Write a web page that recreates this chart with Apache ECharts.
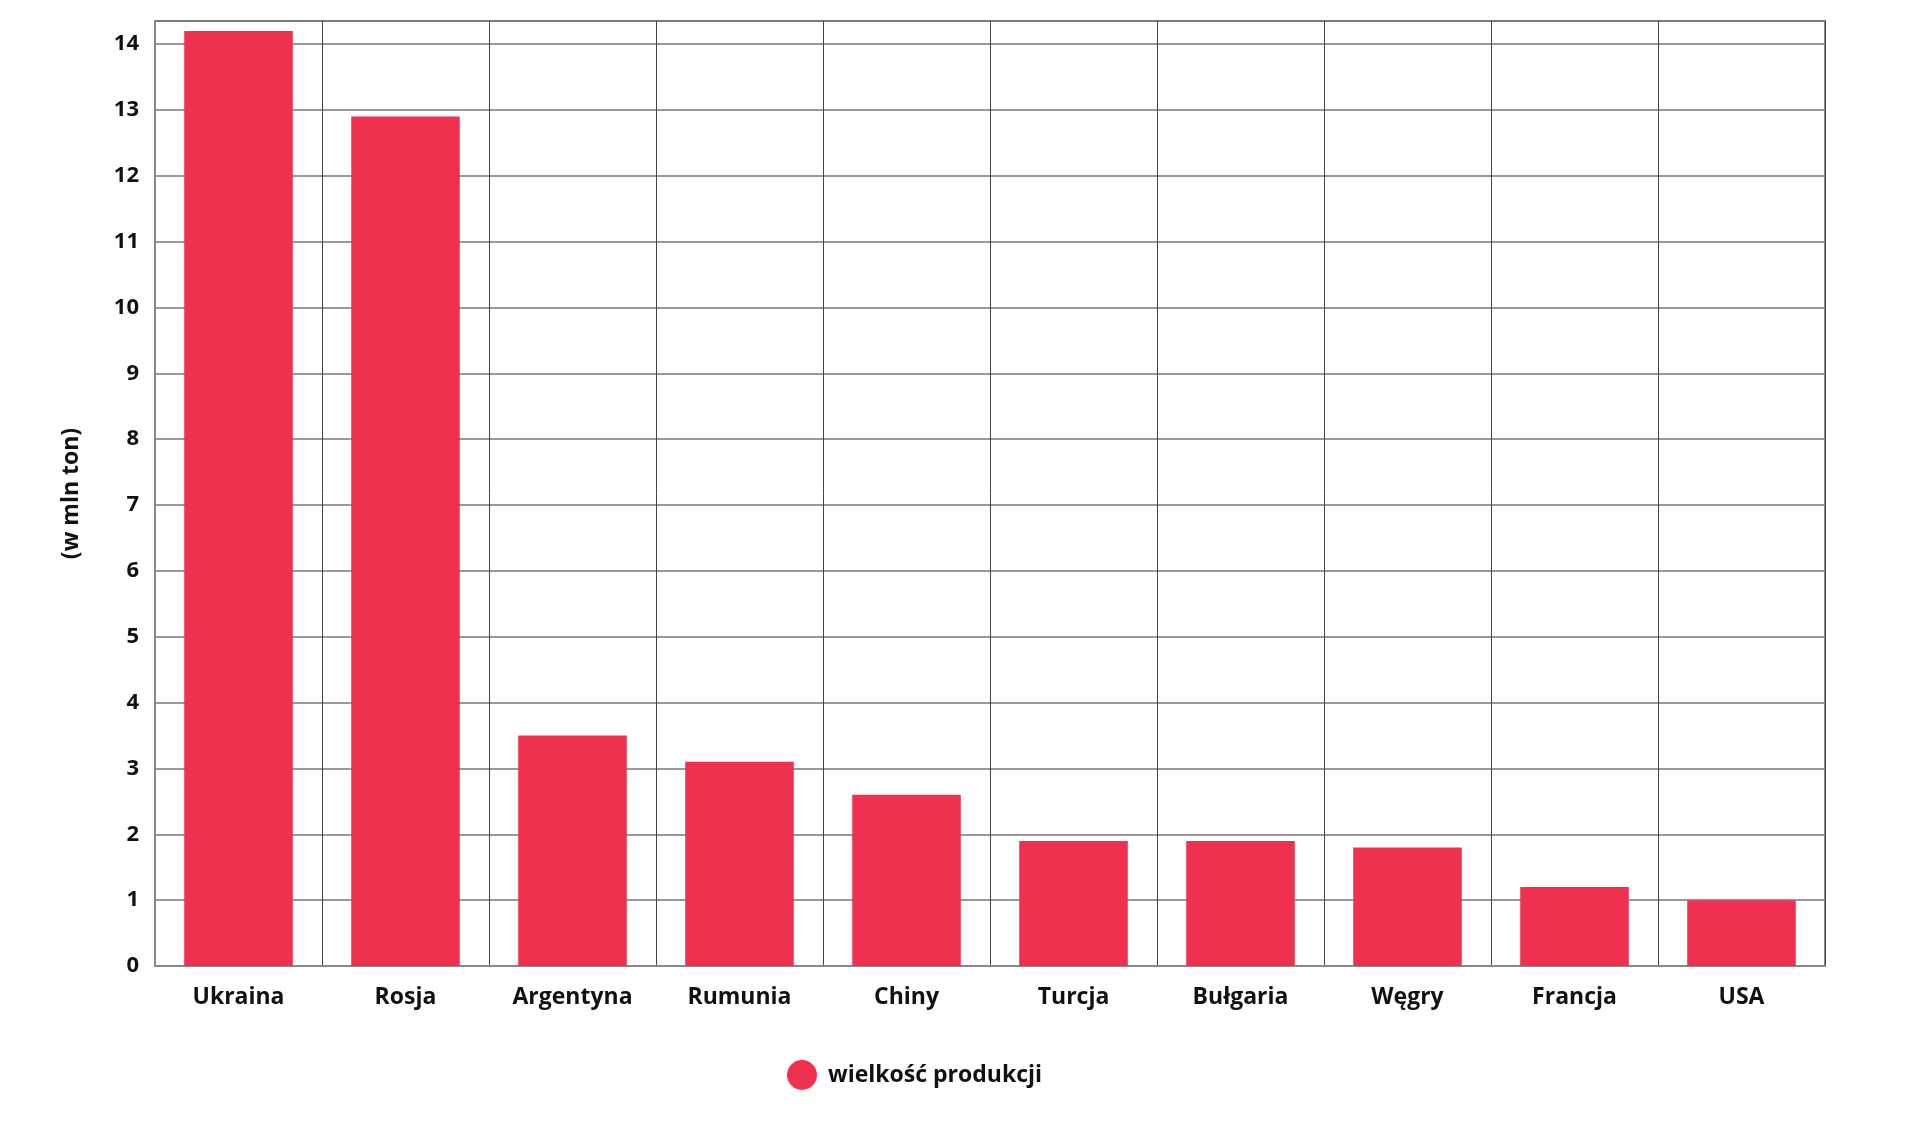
<!DOCTYPE html>
<html>
<head>
<meta charset="utf-8">
<script src="https://cdn.jsdelivr.net/npm/echarts@6/dist/echarts.min.js"></script>
<style>
  html, body { margin: 0; padding: 0; background: #fff; }
  #chart { width: 1920px; height: 1131px; }
</style>
</head>
<body>
<div id="chart"></div>
<script>
var countries = ['Ukraina', 'Rosja', 'Argentyna', 'Rumunia', 'Chiny', 'Turcja', 'Bułgaria', 'Węgry', 'Francja', 'USA']
var production = [14.2, 12.9, 3.5, 3.1, 2.6, 1.9, 1.9, 1.8, 1.2, 1.0]
var seriesName = 'wielkość produkcji'
var yName = '(w mln ton)'

var chart = echarts.init(document.getElementById('chart'))
var font = '"Open Sans", "Noto Sans", sans-serif'

var option = {
    backgroundColor: '#fff',
    animation: false,
    grid: {
        left: 155,
        right: 95,
        top: 21,
        bottom: 165,
        show: true,
        borderColor: '#888',
        borderWidth: 2
    },
    legend: {
        left: 782,
        top: 1055,
        icon: 'circle',
        itemWidth: 30,
        itemHeight: 30,
        itemGap: 10,
        textStyle: {
            fontFamily: font,
            fontWeight: 'bold',
            fontSize: 23,
            color: '#111',
            padding: [0, 0, 0, 6]
        },
        data: [seriesName]
    },
    xAxis: {
        type: 'category',
        data: countries,
        axisLine: { show: true, lineStyle: { color: '#888', width: 2 } },
        axisTick: { show: false },
        axisLabel: {
            margin: 20,
            fontFamily: font,
            fontWeight: 'bold',
            fontSize: 23,
            color: '#111'
        },
        splitLine: { show: true, lineStyle: { color: '#444', width: 1 } }
    },
    yAxis: {
        type: 'value',
        min: 0,
        max: 14.35,
        interval: 1,
        name: yName,
        nameLocation: 'middle',
        nameRotate: 90,
        nameGap: 72,
        nameTextStyle: {
            fontFamily: font,
            fontWeight: 'bold',
            fontSize: 23,
            color: '#111'
        },
        axisLine: { show: true, lineStyle: { color: '#888', width: 2 } },
        axisTick: { show: false },
        axisLabel: {
            margin: 16,
            fontFamily: font,
            fontWeight: 'bold',
            fontSize: 22,
            color: '#111',
            formatter: function (v) {
                return Number.isInteger(v) ? String(v) : ''
            }
        },
        splitLine: { show: true, lineStyle: { color: '#777', width: 1.5 } }
    },
    series: [{
        name: seriesName,
        type: 'bar',
        data: production,
        barWidth: '65%',
        itemStyle: { color: '#F0304F' }
    }]
}

chart.setOption(option)
</script>
</body>
</html>
